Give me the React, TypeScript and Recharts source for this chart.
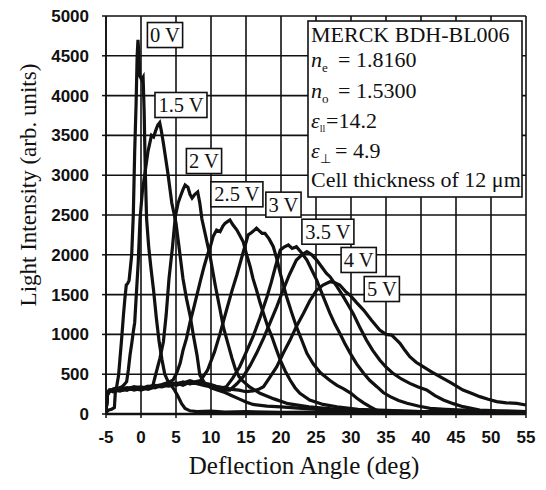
import { CartesianGrid, Customized, Line, LineChart, ReferenceDot, XAxis, YAxis } from 'recharts';

type Pt = [number, number];

const angleTicks = [-5, 0, 5, 10, 15, 20, 25, 30, 35, 40, 45, 50, 55];
const intensityTicks = [0, 500, 1000, 1500, 2000, 2500, 3000, 3500, 4000, 4500, 5000];

// deflection angle (deg), light intensity (arb. units)
const curve0V: Pt[] = [
  [-5, 20], [-4.75, 40], [-4.6, 50], [-4.2, 60], [-3.8, 80], [-3.65, 300], [-3.5, 330], [-3.2, 489], [-3.0, 700],
  [-2.76, 950], [-2.5, 1250], [-2.3, 1452], [-2.1, 1620], [-1.9, 1640], [-1.7, 1680], [-1.5, 1850], [-1.33, 2000],
  [-1.1, 2500], [-0.9, 3300], [-0.7, 3900], [-0.55, 4500], [-0.43, 4700], [-0.32, 4550], [-0.2, 4250], [0.1, 4200],
  [0.3, 4230], [0.45, 3800], [0.6, 3100], [0.8, 2450], [1.1, 2100], [1.4, 1850], [1.8, 1550], [2.2, 1200],
  [2.6, 900], [3.0, 680], [3.4, 500], [3.8, 420], [4.3, 360], [4.8, 300], [5.3, 220], [5.8, 130], [6.3, 70],
  [7, 40], [8, 30], [10, 35], [12, 25], [15, 30], [20, 20], [25, 25], [30, 20], [40, 20], [50, 15], [55, 15],
];

const curve15V: Pt[] = [
  [-5, 30], [-4.8, 230], [-4.6, 290], [-4.2, 300], [-3.8, 320], [-3.4, 300], [-3.0, 330], [-2.6, 350], [-2.3, 380],
  [-2.05, 406], [-1.8, 560], [-1.57, 740], [-1.3, 900], [-1.1, 1034], [-0.9, 1150], [-0.7, 1452], [-0.4, 1900],
  [-0.14, 2450], [0.2, 2800], [0.6, 3050], [1.0, 3300], [1.3, 3420], [1.5, 3500], [1.8, 3480], [2.1, 3560],
  [2.4, 3630], [2.67, 3660], [2.9, 3560], [3.2, 3400], [3.8, 3050], [4.4, 2650], [5.0, 2400], [5.5, 2050],
  [6.0, 1700], [6.5, 1450], [7.0, 1243], [7.5, 980], [8.0, 740], [8.4, 489], [9, 400], [9.5, 360], [10, 330],
  [11, 300], [12, 270], [13, 230], [14, 190], [15, 150], [16, 120], [18, 100], [20, 90], [23, 70], [26, 55],
  [30, 40], [35, 35], [40, 30], [45, 25], [55, 20],
];

const curve2V: Pt[] = [
  [-5, 30], [-4.8, 260], [-4.5, 280], [-4, 310], [-3, 290], [-2, 320], [-1, 330], [0, 310], [1, 340], [1.7, 360],
  [2.2, 531], [2.7, 700], [3.2, 908], [3.6, 1250], [4.0, 1700], [4.5, 2100], [4.9, 2480], [5.3, 2650], [5.6, 2725],
  [6.0, 2820], [6.3, 2876], [6.7, 2850], [7.0, 2760], [7.3, 2713], [7.7, 2760], [8.1, 2790], [8.4, 2650],
  [8.7, 2450], [9.2, 2250], [9.9, 1970], [10.6, 1620], [11.3, 1306], [11.8, 1080], [12.4, 890], [13, 700],
  [13.5, 560], [14, 470], [14.5, 420], [15.5, 340], [17, 260], [19, 190], [21, 130], [24, 90], [28, 60], [32, 40],
  [38, 30], [45, 25], [55, 20],
];

const curve25V: Pt[] = [
  [-5, 30], [-4.8, 240], [-4.5, 300], [-4, 290], [-3, 320], [-2, 300], [-1, 330], [0, 340], [1, 320], [2, 350],
  [3, 370], [4, 400], [4.6, 430], [5.1, 515], [5.6, 640], [6.0, 800], [6.5, 950], [7.0, 1150], [7.5, 1320],
  [8.0, 1500], [8.5, 1680], [9.0, 1850], [9.5, 2000], [9.9, 2100], [10.3, 2230], [10.8, 2311], [11.3, 2290],
  [11.7, 2360], [12.0, 2395], [12.4, 2420], [12.7, 2437], [13.1, 2380], [13.7, 2311], [14.2, 2230], [14.6, 2164],
  [15.1, 2000], [15.6, 1850], [16.0, 1700], [16.5, 1557], [17.0, 1400], [17.5, 1264], [18.1, 1100], [18.7, 971],
  [19.3, 820], [19.9, 678], [20.6, 540], [21.3, 427], [22, 330], [22.7, 259], [24.1, 176], [26, 120], [28, 90],
  [31, 60], [35, 45], [40, 30], [47, 25], [55, 20],
];

const curve3V: Pt[] = [
  [-5, 30], [-4.8, 250], [-4.4, 290], [-4, 300], [-3, 310], [-2, 330], [-1, 300], [0, 320], [1, 350], [2, 330],
  [3, 360], [4, 380], [5, 360], [6, 390], [7, 420], [7.7, 400], [8.5, 420], [9.5, 550], [10.5, 780], [11.3, 1013],
  [12.2, 1300], [13, 1550], [13.7, 1750], [14.5, 2000], [15.3, 2248], [15.8, 2280], [16.2, 2310], [16.5, 2335],
  [16.9, 2300], [17.3, 2270], [17.7, 2269], [18.3, 2200], [18.9, 2102], [19.4, 1950], [19.9, 1767], [20.4, 1600],
  [20.8, 1474], [21.5, 1280], [22.2, 1097], [23, 920], [23.7, 762], [24.6, 630], [25.6, 520], [27, 420], [28, 360],
  [28.9, 320], [30, 260], [30.8, 200], [31.8, 140], [32.7, 92], [33.5, 55], [34.1, 35], [36, 30], [40, 25],
  [48, 20], [55, 20],
];

const curve35V: Pt[] = [
  [-5, 30], [-4.8, 270], [-4.4, 300], [-4, 280], [-3, 300], [-2, 320], [-1, 340], [0, 330], [1, 310], [2, 340],
  [3, 360], [4, 350], [5, 380], [6, 400], [7, 380], [8, 410], [9, 390], [10, 370], [11, 340], [11.6, 330],
  [12.2, 343], [13.1, 450], [14.1, 594], [15, 770], [16, 971], [17, 1210], [18, 1474], [18.6, 1650], [19.2, 1850],
  [19.9, 2060], [20.5, 2100], [21.05, 2123], [21.6, 2080], [22.2, 2102], [22.9, 2030], [23.7, 1934], [24.4, 1810],
  [25.1, 1683], [26, 1480], [27, 1264], [27.7, 1130], [28.4, 1013], [29.1, 890], [29.9, 762], [30.8, 630],
  [31.8, 511], [32.7, 420], [33.7, 343], [34.6, 270], [35.6, 218], [36.8, 170], [38, 134], [39.6, 100], [41.3, 71],
  [43.5, 60], [46, 50], [50, 35], [55, 30],
];

const curve4V: Pt[] = [
  [-5, 30], [-4.8, 240], [-4.5, 290], [-4, 310], [-3, 290], [-2, 310], [-1, 320], [0, 300], [1, 330], [2, 350],
  [3, 340], [4, 370], [5, 390], [6, 360], [7, 400], [8, 380], [9, 360], [10, 340], [11, 320], [12, 300],
  [12.7, 301], [13.7, 380], [14.6, 469], [15.6, 610], [16.5, 762], [17.5, 950], [18.4, 1139], [19.4, 1350],
  [20.3, 1557], [21.2, 1750], [22.2, 1934], [23, 2000], [23.7, 2039], [24.4, 2000], [25.1, 1934], [25.8, 1850],
  [26.5, 1767], [27, 1725], [28, 1600], [28.9, 1474], [29.6, 1370], [30.3, 1264], [31.2, 1100], [32.2, 929],
  [33.1, 800], [34.1, 678], [35, 590], [36, 511], [37.2, 440], [38.4, 385], [39.6, 340], [40.8, 301], [42, 230],
  [43.2, 176], [44.6, 130], [46, 92], [47.2, 70], [48.4, 50], [51, 40], [55, 30],
];

const curve5V: Pt[] = [
  [-5, 30], [-4.8, 260], [-4.5, 300], [-4, 300], [-3, 330], [-2, 300], [-1, 340], [0, 320], [1, 330], [2, 360],
  [3, 350], [4, 380], [5, 370], [6, 400], [7, 380], [8, 390], [9, 370], [10, 360], [11, 340], [12, 330], [13, 310],
  [14, 300], [15, 280], [16, 290], [16.8, 310], [17.5, 343], [18.4, 460], [19.4, 594], [20.3, 760], [21.3, 929],
  [22.2, 1100], [23.2, 1264], [24.1, 1420], [25.1, 1557], [26, 1620], [27, 1662], [27.7, 1650], [28.4, 1620],
  [29.2, 1540], [29.9, 1490], [30.8, 1400], [31.8, 1306], [32.9, 1180], [34.1, 1055], [35, 1000], [35.8, 992],
  [36.4, 940], [37, 887], [37.7, 800], [38.4, 720], [39.3, 650], [40.3, 594], [41.5, 530], [42.7, 469], [44.3, 390],
  [46, 301], [47.2, 260], [48.4, 218], [49.6, 185], [50.8, 155], [52.2, 140], [53.7, 134], [55, 113],
];

const voltages = ['0 V', '1.5 V', '2 V', '2.5 V', '3 V', '3.5 V', '4 V', '5 V'];
const curves = [curve0V, curve15V, curve2V, curve25V, curve3V, curve35V, curve4V, curve5V];
// where each voltage tag sits, in data units
const tagSpots: Pt[] = [
  [3.43, 4761], [5.71, 3882], [9.0, 3178], [13.7, 2760], [20.35, 2630], [26.7, 2290], [31.1, 1935], [34.4, 1570],
];

const series = curves.map((c, i) => ({ name: voltages[i], data: c.map(([x, y]) => ({ x, y })) }));

const serif = '"Liberation Serif", "Times New Roman", serif';
const sans = '"Liberation Sans", Arial, sans-serif';

function BoldTick(props: any) {
  const { x, y, payload, textAnchor, orientation } = props;
  const dy = orientation === 'bottom' ? 19 : 6;
  return (
    <text x={x} y={y + dy} textAnchor={textAnchor} fontFamily={sans} fontWeight="bold" fontSize={17} fill="#111">
      {payload.value}
    </text>
  );
}

function VoltTag(props: any) {
  const { cx, cy, text } = props;
  const w = 10 + text.length * 8.4;
  return (
    <g>
      <rect x={cx - w / 2} y={cy - 12.5} width={w} height={25} fill="#fff" stroke="#111" strokeWidth={1.6} />
      <text x={cx} y={cy + 7} textAnchor="middle" fontFamily={serif} fontSize={20.5} fill="#111">
        {text}
      </text>
    </g>
  );
}

function MaterialBox() {
  return (
    <g fontFamily={serif} fontSize={22} fill="#111">
      <rect x={308} y={21} width={214} height={176} fill="#fff" stroke="#111" strokeWidth={1.6} />
      <text x={311} y={42}>MERCK BDH-BL006</text>
      <text x={311} y={67}>
        <tspan fontStyle="italic">n</tspan>
        <tspan fontSize={13} dy={5}>e</tspan>
        <tspan x={338} dy={-5}>= 1.8160</tspan>
      </text>
      <text x={311} y={98}>
        <tspan fontStyle="italic">n</tspan>
        <tspan fontSize={13} dy={5}>o</tspan>
        <tspan x={338} dy={-5}>= 1.5300</tspan>
      </text>
      <text x={311} y={128}>
        <tspan fontStyle="italic">ε</tspan>
        <tspan fontSize={10} dy={4}>ll</tspan>
        <tspan x={326} dy={-4}>=14.2</tspan>
      </text>
      <text x={311} y={158}>
        <tspan fontStyle="italic">ε</tspan>
        <tspan fontSize={13} dy={5}>⊥</tspan>
        <tspan x={335} dy={-5}>= 4.9</tspan>
      </text>
      <text x={311} y={187}>Cell thickness of 12 μm</text>
    </g>
  );
}

export default function App() {
  return (
    <div style={{ position: 'absolute', left: 0, top: 0, background: '#fff' }}>
      <LineChart width={546} height={490} margin={{ top: 16, right: 20, bottom: 0, left: 0 }}>
        <CartesianGrid stroke="#111" strokeWidth={1.6} horizontalValues={intensityTicks} verticalValues={angleTicks} />
        <XAxis
          type="number"
          dataKey="x"
          domain={[-5, 55]}
          ticks={angleTicks}
          height={76}
          tickSize={4}
          tickMargin={6}
          axisLine={{ stroke: '#111', strokeWidth: 2.5 }}
          tickLine={{ stroke: '#111', strokeWidth: 1.5 }}
          tick={<BoldTick />}
          allowDataOverflow
          label={{
            content: () => (
              <text x={304} y={474} textAnchor="middle" fontFamily={serif} fontSize={25} fill="#111">
                Deflection Angle (deg)
              </text>
            ),
          }}
        />
        <YAxis
          type="number"
          domain={[0, 5000]}
          ticks={intensityTicks}
          width={106}
          tickSize={4}
          tickMargin={13}
          axisLine={{ stroke: '#111', strokeWidth: 1.6 }}
          tickLine={{ stroke: '#111', strokeWidth: 1.5 }}
          tick={<BoldTick />}
          allowDataOverflow
          label={{
            content: () => (
              <text
                x={28}
                y={185}
                transform="rotate(-90 28 185)"
                textAnchor="middle"
                dominantBaseline="central"
                fontFamily={serif}
                fontSize={23}
                fill="#111"
              >
                Light Intensity (arb. units)
              </text>
            ),
          }}
        />
        {series.map((s) => (
          <Line
            key={s.name}
            data={s.data}
            dataKey="y"
            type="linear"
            stroke="#111"
            strokeWidth={3.2}
            dot={false}
            isAnimationActive={false}
          />
        ))}
        {voltages.map((v, i) => (
          <ReferenceDot
            key={v}
            x={tagSpots[i][0]}
            y={tagSpots[i][1]}
            r={0}
            shape={(p: any) => <VoltTag {...p} text={v} />}
          />
        ))}
        <Customized component={MaterialBox} />
      </LineChart>
    </div>
  );
}
